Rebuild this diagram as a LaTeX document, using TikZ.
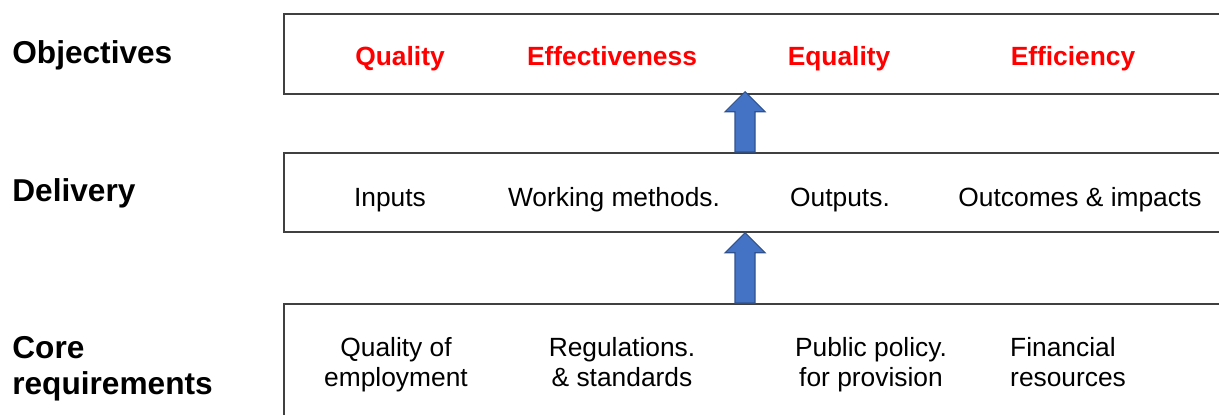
\documentclass[tikz,border=0pt]{standalone}
\usepackage{fontspec}
\setmainfont{Liberation Sans}
\usetikzlibrary{calc}
\definecolor{arrowblue}{HTML}{4472C4}
\definecolor{arrowedge}{HTML}{2F528F}
\definecolor{boxline}{HTML}{404040}

\begin{document}
\begin{tikzpicture}[
	x=0.02cm, y=-0.02cm,
	rowlabel/.style={anchor=base west, align=left, inner sep=0pt, font=\fontsize{18}{20}\selectfont\bfseries},
	goal/.style={anchor=base, text=red, font=\fontsize{15}{18}\selectfont\bfseries},
	item/.style={anchor=base, align=center, font=\fontsize{15}{17}\selectfont},
	band/.style={draw=boxline, line width=1pt, anchor=north west, minimum width=19.6cm, inner sep=0pt},
	uparrow/.style={fill=arrowblue, draw=arrowedge, line width=0.6pt, line join=miter, to path={
		($(\tikztostart)+(-10,0)$) -- ($(\tikztotarget)+(-10,20)$) -- ($(\tikztotarget)+(-20,20)$)
		-- (\tikztotarget) -- ($(\tikztotarget)+(20,20)$) -- ($(\tikztotarget)+(10,20)$)
		-- ($(\tikztostart)+(10,0)$) -- cycle}}]
   \path[use as bounding box, clip] (0,0) rectangle (1219,415);

   % the three bands
   \node[band, minimum height=1.6cm] (objbox) at (283,13) {};
   \node[band, minimum height=1.58cm] (delbox) at (283,152) {};
   \node[band, minimum height=3cm] (corebox) at (283,303) {};

   % row names
   \node[rowlabel] (objectives) at (12,64) {Objectives};
   \node[rowlabel] (delivery) at (12,201) {Delivery};
   \node[rowlabel] (core) at (12,394) {Core\\requirements};

   % objectives
   \node[goal] (quality) at (400,66) {Quality};
   \node[goal] (effectiveness) at (612,66) {Effectiveness};
   \node[goal] (equality) at (839,66) {Equality};
   \node[goal] (efficiency) at (1073,66) {Efficiency};

   % delivery
   \node[item] (inputs) at (390,206) {Inputs};
   \node[item] (methods) at (614,206) {Working methods.};
   \node[item] (outputs) at (840,206) {Outputs.};
   \node[item] (outcomes) at (1080,206) {Outcomes \& impacts};

   % core requirements
   \node[item] (employment) at (396,386) {Quality of\\employment};
   \node[item] (regulations) at (622,386) {Regulations.\\\& standards};
   \node[item] (policy) at (871,386) {Public policy.\\for provision};
   \node[item, anchor=base west, align=left] (finance) at (1004,386) {Financial\\resources};

   % block arrows between the bands
   \coordinate (stem) at (745,0);
   \coordinate (foot1) at (delbox.north -| stem);
   \coordinate (head1) at ($(objbox.south -| stem)+(0,-3)$);
   \coordinate (foot2) at (corebox.north -| stem);
   \coordinate (head2) at (delbox.south -| stem);
   \draw[uparrow] (foot1) to (head1);
   \draw[uparrow] (foot2) to (head2);
\end{tikzpicture}
\end{document}
